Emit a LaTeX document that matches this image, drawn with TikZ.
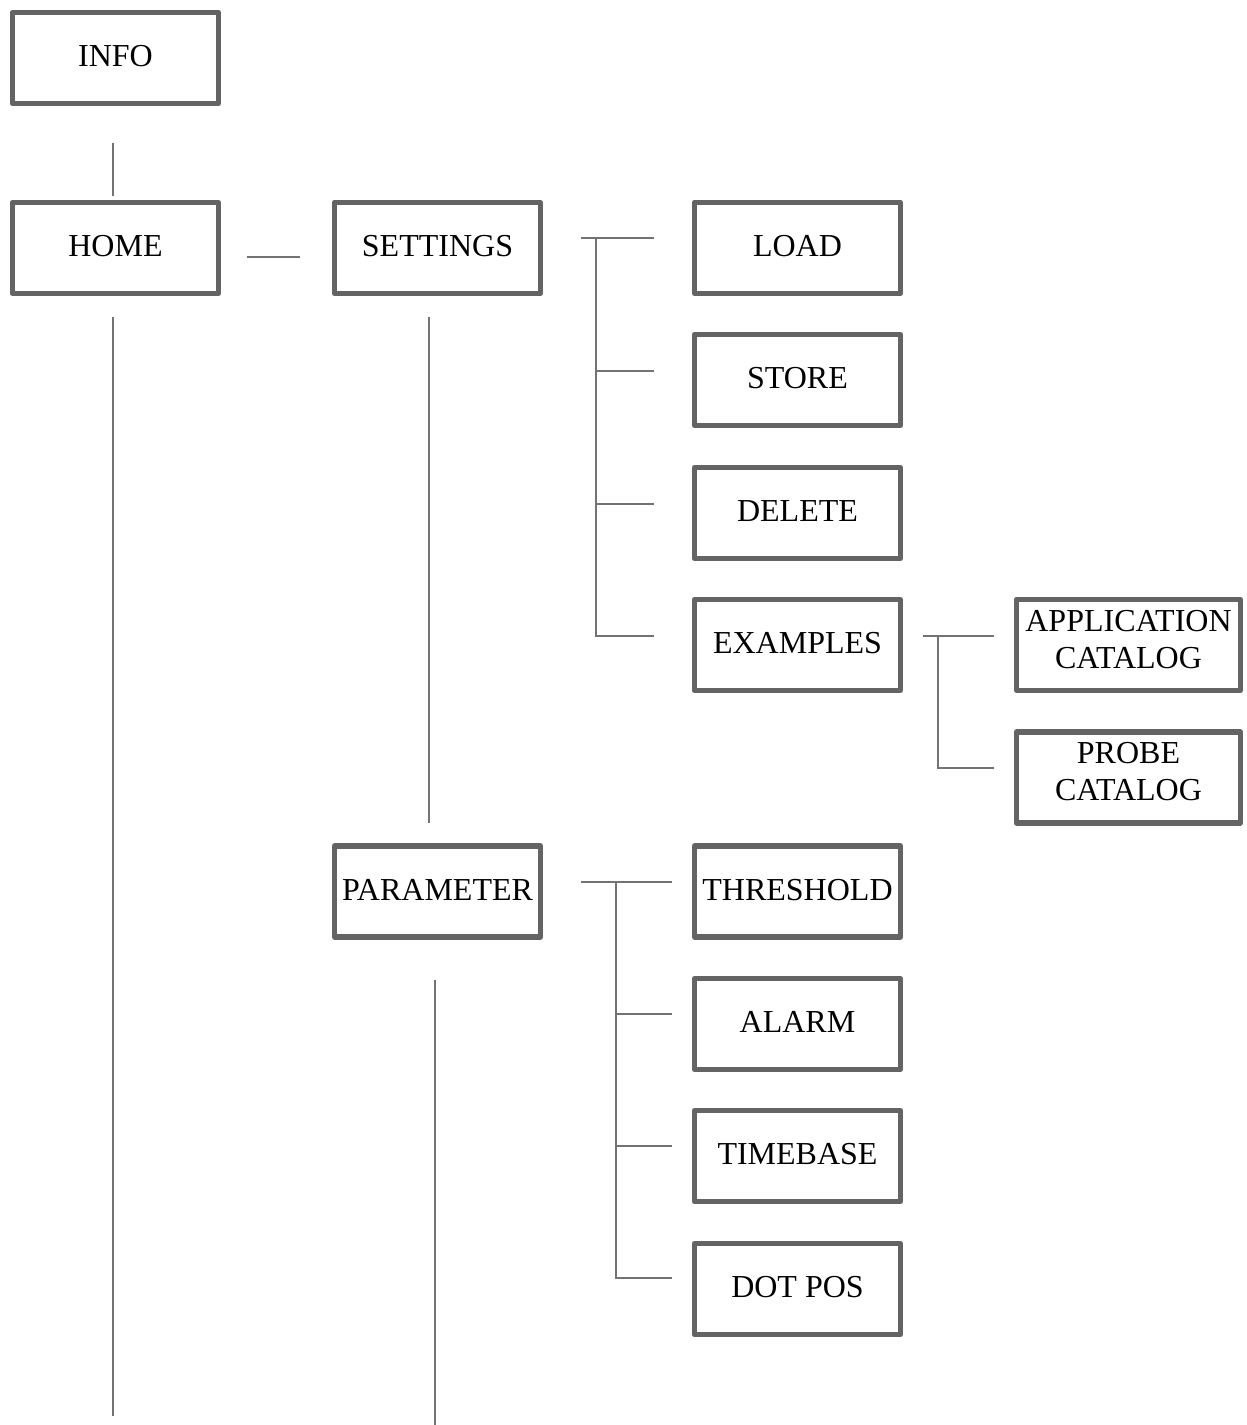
\documentclass[tikz,border=0pt]{standalone}
\usepackage{fontspec}
\setmainfont{Liberation Serif}
\usetikzlibrary{calc}
\definecolor{boxgray}{HTML}{646464}
\definecolor{linegray}{HTML}{737373}
\begin{document}
\begin{tikzpicture}[x=0.5pt,y=-0.5pt,
  menu/.style={draw=boxgray,line width=2.6pt,line join=round,fill=white,
    minimum width=103pt,minimum height=45.5pt,inner sep=0pt,align=center,
    text depth=2pt,font=\fontsize{16}{18.5}\selectfont},
  widemenu/.style={menu,minimum width=112pt,text depth=6pt},
  link/.style={draw=linegray,line width=1pt}]
\useasboundingbox (0,0) rectangle (1247,1425);
% main column
\node[menu] (info) at (115.5,58) {INFO};
\node[menu] (home) at (115.5,248) {HOME};
\node[menu] (settings) at (437.5,248) {SETTINGS};
\node[menu] (parameter) at (437.5,891.5) {PARAMETER};
% settings submenu
\node[menu] (load) at (797.5,248) {LOAD};
\node[menu] (store) at (797.5,380) {STORE};
\node[menu] (delete) at (797.5,513) {DELETE};
\node[menu] (examples) at (797.5,645) {EXAMPLES};
\node[widemenu] (appcat) at (1128.5,645) {APPLICATION\\CATALOG};
\node[widemenu] (probecat) at (1128.5,777.5) {PROBE\\CATALOG};
% parameter submenu
\node[menu] (threshold) at (797.5,891.5) {THRESHOLD};
\node[menu] (alarm) at (797.5,1024) {ALARM};
\node[menu] (timebase) at (797.5,1156) {TIMEBASE};
\node[menu] (dotpos) at (797.5,1289) {DOT POS};

\draw[link] ($(info.south)+(-3,37)$) -- ($(home.north)+(-3,-4)$);
\draw[link] ($(home.east)+(26,9)$) -- ($(settings.west)+(-32,9)$);
\draw[link] ($(home.south)+(-3,21)$) -- ++(0,1099);
\draw[link] ($(settings.south)+(-9,21)$) -- ($(parameter.north)+(-9,-20)$);
\draw[link] ($(parameter.south)+(-3,40)$) -- ++(0,450);

\draw[link] ($(settings.east)+(38,-10)$) -- ($(load.west)+(-38,-10)$);
\draw[link] ($(load.west)+(-96,-10)$) |- ($(examples.west)+(-38,-9)$);
\foreach \n in {store,delete}
  \draw[link] ($(\n.west)+(-96,-9)$) -- ($(\n.west)+(-38,-9)$);

\draw[link] ($(examples.east)+(20,-9)$) -- ($(appcat.west)+(-20,-9)$);
\draw[link] ($(appcat.west)+(-76,-9)$) |- ($(probecat.west)+(-20,-9.5)$);

\draw[link] ($(parameter.east)+(38,-10)$) -- ($(threshold.west)+(-20,-10)$);
\draw[link] ($(threshold.west)+(-76,-10)$) |- ($(dotpos.west)+(-20,-11)$);
\foreach \n in {alarm,timebase}
  \draw[link] ($(\n.west)+(-76,-10)$) -- ($(\n.west)+(-20,-10)$);
\end{tikzpicture}
\end{document}
